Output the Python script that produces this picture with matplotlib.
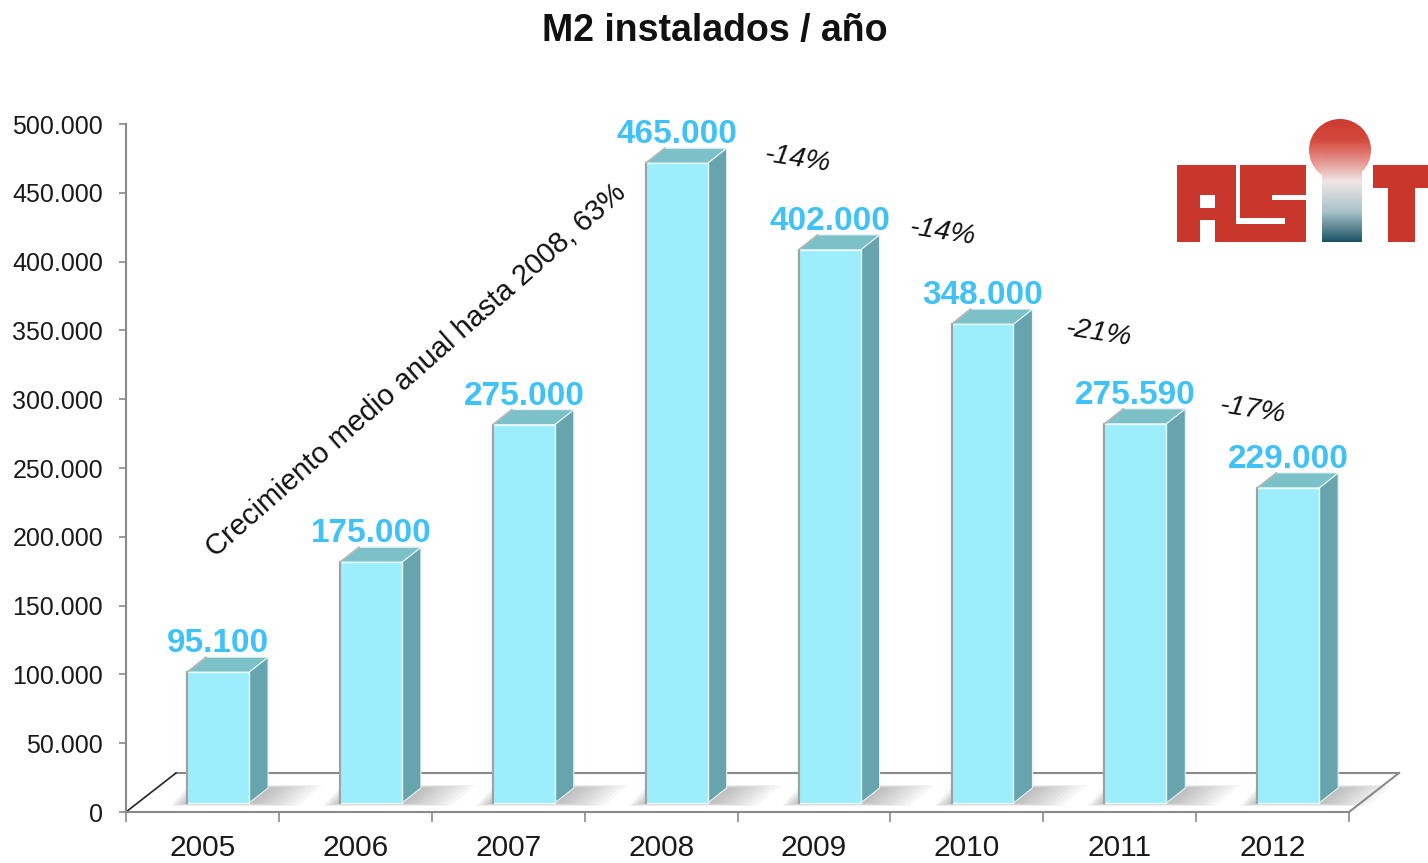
import numpy as np
import matplotlib
matplotlib.use('Agg')
import matplotlib.pyplot as plt
from matplotlib.patches import Polygon, Rectangle, Circle
from matplotlib.colors import LinearSegmentedColormap

plt.rcParams['font.family'] = ['Liberation Sans', 'DejaVu Sans']

# data
years = ['2005', '2006', '2007', '2008', '2009', '2010', '2011', '2012']
values = [95100, 175000, 275000, 465000, 402000, 348000, 275590, 229000]
changes = ['-14%', '-14%', '-21%', '-17%']
change_pos = [(4.39, 474000), (5.34, 421500), (6.36, 348000), (7.37, 292000)]
trend_note = 'Crecimiento medio anual hasta 2008, 63%'
y_ticks = list(range(0, 500001, 50000))

W, H = 1428, 863
fig = plt.figure(figsize=(W / 100, H / 100), dpi=100)
fig.patch.set_facecolor('white')

# plot area in pixels: x 126..1349, y 124..812
ax = fig.add_axes([126 / W, (H - 812) / H, (1349 - 126) / W, (812 - 124) / H])
ax.set_xlim(0, len(years))
ax.set_ylim(0, 500000)
ax.patch.set_alpha(0)

px_x = len(years) / (1349 - 126)
px_y = 500000 / (812 - 124)

# 3D geometry (pixel sizes converted to data units)
fdx, fdy = 50 * px_x, 39 * px_y        # floor depth
off_x, bw = 0.40, 0.405                # bar front face inside its slot
base = 9 * px_y                        # bar front sits a little behind floor edge
bdx, bdy = 19 * px_x, 15 * px_y        # bar depth

grey = '#8a8a8a'

# floor
n = len(years)
ax.add_patch(Polygon([(0, 0), (n, 0), (n + fdx, fdy), (fdx, fdy)], closed=True,
                     facecolor='white', edgecolor='none', zorder=1, clip_on=False))

# soft shadows on the floor
for i in range(n):
    x0 = i + off_x
    x1 = x0 + bw
    steps = 10
    for k in range(steps):
        w = 0.32 * (1 - k / steps)
        e = 3 * px_y * (1 - k / steps)
        pts = [(x0 - 0.35 * w, base - e), (x1 + w, base - e),
               (x1 + w + bdx + 2 * e / px_y * px_x, base + bdy + e),
               (x0 - 0.35 * w + bdx, base + bdy + e)]
        ax.add_patch(Polygon(pts, closed=True, facecolor='#5a5a5a', edgecolor='none',
                             alpha=0.045, zorder=1.5, clip_on=False))

ax.plot([fdx, n + fdx], [fdy, fdy], color=grey, lw=1.5, zorder=2, clip_on=False)
ax.plot([0, fdx], [0, fdy], color='#222222', lw=1.2, zorder=2, clip_on=False)
ax.plot([n, n + fdx], [0, fdy], color=grey, lw=1.5, zorder=2, clip_on=False)

# bars
front_c, top_c, side_c = '#9ceefc', '#7cc0c8', '#67a4ae'
for i, v in enumerate(values):
    x0 = i + off_x
    x1 = x0 + bw
    y0 = base
    y1 = base + v
    ax.add_patch(Polygon([(x1, y0), (x1 + bdx, y0 + bdy), (x1 + bdx, y1 + bdy), (x1, y1)],
                         closed=True, facecolor=side_c, edgecolor='#e4f4f6', lw=0.8,
                         zorder=3, clip_on=False))
    ax.add_patch(Polygon([(x0, y1), (x1, y1), (x1 + bdx, y1 + bdy), (x0 + bdx, y1 + bdy)],
                         closed=True, facecolor=top_c, edgecolor='#e4f4f6', lw=0.8,
                         zorder=3, clip_on=False))
    ax.add_patch(Rectangle((x0, y0), bw, v, facecolor=front_c, edgecolor='#e8fbfe',
                           lw=1.0, zorder=3, clip_on=False))
    ax.plot([x0, x0], [y0, y1], color='#a0a0a0', lw=1.6, zorder=3.5, clip_on=False)
    ax.plot([x0, x0 + bdx], [y1, y1 + bdy], color='#b4b4b4', lw=1.2, zorder=3.5, clip_on=False)

    label = f'{v:,}'.replace(',', '.')
    ax.text(x0 + bw / 2, y1 + bdy + 5 * px_y, label, ha='center', va='baseline',
            fontsize=24, fontweight='bold', color='#41c2f6', zorder=6)

# change labels
for s, (cx, cy) in zip(changes, change_pos):
    ax.text(cx, cy, s, ha='center', va='center', fontsize=20.5, style='italic',
            rotation=-9, color='#111111', zorder=6)

ax.text(1.897, 321000, trend_note, ha='center', va='center', fontsize=21,
        rotation=41.4, rotation_mode='anchor', color='#111111', zorder=6)

# axes styling
for sp in ['top', 'right']:
    ax.spines[sp].set_visible(False)
for sp in ['left', 'bottom']:
    ax.spines[sp].set_color(grey)
    ax.spines[sp].set_linewidth(1.5)
    ax.spines[sp].set_zorder(2.5)

ax.set_yticks(y_ticks)
ax.set_yticklabels(['0' if t == 0 else f'{t:,}'.replace(',', '.') for t in y_ticks])
ax.tick_params(axis='y', length=5, width=1.2, color=grey, pad=11.5, labelsize=18,
               labelcolor='#1a1a1a')

ax.set_xticks(range(n + 1))
ax.set_xticklabels([''] * (n + 1))
ax.set_xticks([i + 0.5 for i in range(n)], minor=True)
ax.set_xticklabels(years, minor=True)
ax.tick_params(axis='x', which='major', length=7.5, width=1.2, color=grey)
ax.tick_params(axis='x', which='minor', length=0, pad=15.5, labelsize=21.5, labelcolor='#1a1a1a')

fig.text(715 / W, 1 - 41 / H, 'M2 instalados / año', ha='center', va='baseline',
         fontsize=27, fontweight='bold', color='#111111')

# ASIT logo (pixel coordinates)
lx = fig.add_axes([0, 0, 1, 1], zorder=5)
lx.axis('off')
lx.patch.set_alpha(0)
red = '#c9362b'


def block(x0, y0, x1, y1, c):
    lx.add_patch(Rectangle((x0, y0), x1 - x0, y1 - y0, facecolor=c, edgecolor='none'))


block(1177, 165, 1306, 242, red)
block(1200, 195, 1215, 208, 'white')
block(1200, 220, 1215, 243, 'white')
block(1236, 164, 1240, 224, 'white')
block(1272, 195, 1307, 200, 'white')
block(1240, 218, 1285, 224, 'white')
block(1373, 165, 1428, 188, red)
block(1388, 187, 1415, 242, red)

grad = np.linspace(0, 1, 200).reshape(-1, 1)
dot_cmap = LinearSegmentedColormap.from_list('dot', ['#cc3a2f', '#d4483d', '#e89088', '#f7e2df'])
im = lx.imshow(grad, cmap=dot_cmap, extent=(1308, 1372, 182, 118), aspect='auto',
               origin='upper', interpolation='bilinear')
circ = Circle((1340, 150), 31, transform=lx.transData, facecolor='none', edgecolor='none')
lx.add_patch(circ)
im.set_clip_path(circ)

stem_cmap = LinearSegmentedColormap.from_list('stem', ['#dc6e66', '#f1e6e6', '#a9c3ca', '#1b5465'])
lx.imshow(grad, cmap=stem_cmap, extent=(1322, 1362, 242, 152), aspect='auto',
          origin='upper', interpolation='bilinear')

lx.set_xlim(0, W)
lx.set_ylim(H, 0)

fig.savefig('out.png', dpi=100, facecolor='white')
